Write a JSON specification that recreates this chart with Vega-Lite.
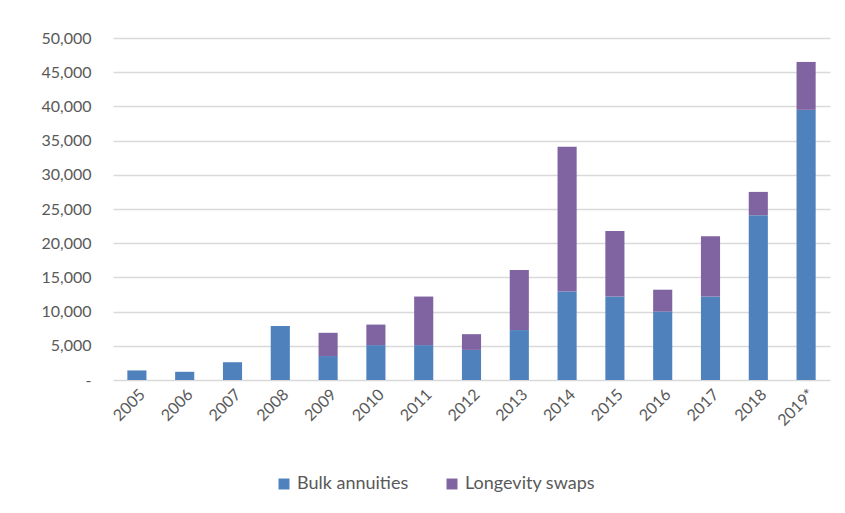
{
  "$schema": "https://vega.github.io/schema/vega-lite/v6.json",
  "autosize": {"type": "none"},
  "width": 717,
  "height": 342,
  "padding": {"left": 113, "top": 38, "right": 15, "bottom": 133},
  "background": "white",
  "config": {
    "view": {"stroke": null},
    "font": "Lato",
    "axis": {"labelFont": "Lato", "labelColor": "#595959", "titleFont": "Lato"},
    "legend": {"labelFont": "Lato"}
  },
  "data": {
    "values": [
      {"year": "2005", "series": "Bulk annuities", "value": 1400},
      {"year": "2006", "series": "Bulk annuities", "value": 1200},
      {"year": "2007", "series": "Bulk annuities", "value": 2600},
      {"year": "2008", "series": "Bulk annuities", "value": 7900},
      {"year": "2009", "series": "Bulk annuities", "value": 3500},
      {"year": "2009", "series": "Longevity swaps", "value": 3400},
      {"year": "2010", "series": "Bulk annuities", "value": 5100},
      {"year": "2010", "series": "Longevity swaps", "value": 3000},
      {"year": "2011", "series": "Bulk annuities", "value": 5100},
      {"year": "2011", "series": "Longevity swaps", "value": 7100},
      {"year": "2012", "series": "Bulk annuities", "value": 4400},
      {"year": "2012", "series": "Longevity swaps", "value": 2300},
      {"year": "2013", "series": "Bulk annuities", "value": 7300},
      {"year": "2013", "series": "Longevity swaps", "value": 8800},
      {"year": "2014", "series": "Bulk annuities", "value": 12950},
      {"year": "2014", "series": "Longevity swaps", "value": 21150},
      {"year": "2015", "series": "Bulk annuities", "value": 12200},
      {"year": "2015", "series": "Longevity swaps", "value": 9600},
      {"year": "2016", "series": "Bulk annuities", "value": 10000},
      {"year": "2016", "series": "Longevity swaps", "value": 3200},
      {"year": "2017", "series": "Bulk annuities", "value": 12200},
      {"year": "2017", "series": "Longevity swaps", "value": 8800},
      {"year": "2018", "series": "Bulk annuities", "value": 24100},
      {"year": "2018", "series": "Longevity swaps", "value": 3400},
      {"year": "2019*", "series": "Bulk annuities", "value": 39500},
      {"year": "2019*", "series": "Longevity swaps", "value": 7000}
    ]
  },
  "mark": {"type": "bar"},
  "encoding": {
    "x": {
      "field": "year",
      "type": "ordinal",
      "sort": null,
      "title": null,
      "scale": {"paddingInner": 0.6, "paddingOuter": 0.3},
      "axis": {
        "labelAngle": -45,
        "labelFontSize": 16,
        "labelColor": "#595959",
        "ticks": false,
        "domain": false,
        "labelPadding": 6
      }
    },
    "y": {
      "field": "value",
      "type": "quantitative",
      "aggregate": "sum",
      "stack": "zero",
      "title": null,
      "scale": {"domain": [0, 50000], "nice": false},
      "axis": {
        "values": [0, 5000, 10000, 15000, 20000, 25000, 30000, 35000, 40000, 45000, 50000],
        "labelExpr": "datum.value == 0 ? '-' : format(datum.value, ',')",
        "labelFontSize": 16,
        "labelColor": "#595959",
        "labelPadding": 22,
        "ticks": false,
        "domain": false,
        "gridColor": "#d9d9d9",
        "gridWidth": 1.5
      }
    },
    "color": {
      "field": "series",
      "type": "nominal",
      "title": null,
      "scale": {"domain": ["Bulk annuities", "Longevity swaps"], "range": ["#4f81bd", "#8064a2"]},
      "legend": {
        "orient": "none",
        "direction": "horizontal",
        "legendX": 162,
        "legendY": 437,
        "symbolType": "square",
        "symbolSize": 120,
        "labelFontSize": 18,
        "labelColor": "#595959",
        "columnPadding": 34
      }
    },
    "order": {"field": "series", "sort": "ascending"}
  }
}
